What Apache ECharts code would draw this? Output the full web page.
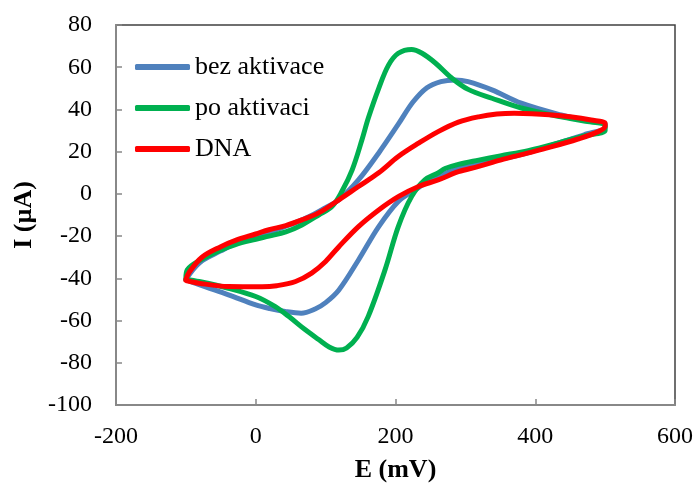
<!DOCTYPE html>
<html><head><meta charset="utf-8">
<script src="https://cdn.jsdelivr.net/npm/echarts@6/dist/echarts.min.js"></script>
<style>html,body{margin:0;padding:0;background:#fff}#c{width:696px;height:489px}</style>
</head><body><div id="c"></div>
<script>
const seriesNames = ['bez aktivace', 'po aktivaci', 'DNA'];
const xTicks = [-200, 0, 200, 400, 600];
const yTicks = [-100, -80, -60, -40, -20, 0, 20, 40, 60, 80];

const bezAktivace = [
  [-100,-40.5],[-80,-32.5],[-50,-27],[-25,-23],[0,-20.5],[25,-17.5],[50,-14.5],[75,-11],[100,-6.5],[119,-2.8],
  [147,6.6],[176,19.4],[204,33],[225,43.5],[245,50.3],[265,53.2],[285,54],[304,53.2],[338,49.3],[380,43],[437,37.4],
  [470,35],[500,33],
  [500,31.5],[470,28],[437,24.5],[390,19.5],[350,16.5],[319,14.5],[290,12],[270,9.5],[250,6.5],[228,1.9],
  [204,-3.6],[176,-15.5],[147,-31.3],[119,-45.5],[100,-51.5],[85,-54.5],[65,-56.5],[42,-55.7],[20,-54.3],
  [0,-52.6],[-39,-47.8],[-81,-43],[-100,-40.5]
];
const poAktivaci = [
  [-100,-40],[-98,-36],[-80,-31.5],[-53,-27],[-29,-24],[0,-21.5],[19,-20],[43,-18],[66,-14.7],[90,-10],
  [109,-6],[123,1],[138,11.4],[152,25.6],[161,35.8],[176,50],[190,61],[204,66.6],[223,68.4],[238,66.6],
  [257,62],[280,55],[304,49.5],[338,45.3],[380,40.7],[437,36.5],[470,34.5],[500,32.5],
  [500,30],[470,27.5],[437,24.5],[390,20.5],[350,18],[319,16],[290,14],[271,12],[261,9.9],[242,6.6],
  [223,-1.3],[204,-15.5],[185,-36],[161,-58],[145,-68],[130,-73],[119,-74],[105,-72.5],[90,-69],[71,-64.4],
  [47,-58],[28,-53.4],[0,-48.6],[-39,-44.7],[-81,-41.5],[-100,-40.5]
];
const dna = [
  [-100,-40.5],[-95,-37],[-77,-30],[-50,-25],[-29,-22],[0,-19],[19,-17],[43,-15],[66,-12.3],[90,-9],
  [119,-2.8],[147,3.5],[176,10],[204,17.7],[233,24],[261,29.5],[290,34],[319,36.5],[345,37.8],[370,38.2],
  [395,38],[420,37.5],[450,36.5],[480,35],[500,33.5],
  [500,32],[490,29.5],[461,26],[420,22],[390,19.4],[350,16],[319,13],[290,10.5],[261,6.6],[233,3.5],
  [204,-1.3],[176,-7.6],[147,-15.5],[119,-25],[100,-32],[80,-37.5],[57,-41.5],[30,-43.5],[9,-44],
  [-39,-43.9],[-81,-42.3],[-100,-41]
];
const colors = ['#4F81BD', '#00B050', '#FF0000'];
const dataList = [bezAktivace, poAktivaci, dna];

const font = 'Liberation Serif, Times New Roman, serif';
const chart = echarts.init(document.getElementById('c'), null, {renderer: 'canvas'});
chart.setOption({
  animation: false,
  backgroundColor: '#fff',
  grid: {left: 116, right: 20, top: 25, bottom: 84, show: true, borderColor: '#404040', borderWidth: 1.5, backgroundColor: 'transparent'},
  legend: {
    data: seriesNames, orient: 'vertical', left: 130, top: 49, itemGap: 15,
    icon: 'roundRect', itemWidth: 55, itemHeight: 6,
    textStyle: {fontFamily: font, fontSize: 26, color: '#000'}
  },
  xAxis: {
    type: 'value', min: xTicks[0], max: xTicks[xTicks.length-1], interval: 200,
    name: 'E (mV)', nameLocation: 'middle', nameGap: 52,
    nameTextStyle: {fontFamily: font, fontSize: 26, fontWeight: 'bold', color: '#000'},
    axisLine: {show: true, onZero: false, lineStyle: {color: '#888', width: 2}},
    axisTick: {show: true, inside: true, length: 6, lineStyle: {color: '#888', width: 1.5}},
    axisLabel: {fontFamily: font, fontSize: 24, color: '#000', margin: 20},
    splitLine: {show: false}
  },
  yAxis: {
    type: 'value', min: yTicks[0], max: yTicks[yTicks.length-1], interval: 20,
    name: 'I (µA)', nameLocation: 'middle', nameGap: 76, nameRotate: 90,
    nameTextStyle: {fontFamily: font, fontSize: 26, fontWeight: 'bold', color: '#000'},
    axisLine: {show: true, onZero: false, lineStyle: {color: '#888', width: 2}},
    axisTick: {show: true, inside: true, length: 6, lineStyle: {color: '#888', width: 1.5}},
    axisLabel: {fontFamily: font, fontSize: 24, color: '#000', margin: 24},
    splitLine: {show: false}
  },
  series: seriesNames.map((n, i) => ({
    name: n, type: 'line', data: dataList[i], smooth: 0.35, showSymbol: false, symbol: 'none',
    lineStyle: {color: colors[i], width: 5, cap: 'round', join: 'round'},
    itemStyle: {color: colors[i]}, z: 2 + i
  }))
});
</script></body></html>
